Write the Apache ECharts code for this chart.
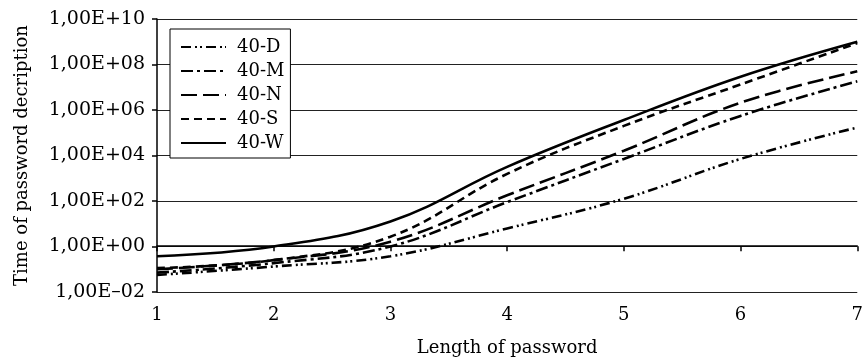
<!DOCTYPE html>
<html><head><meta charset="utf-8">
<script src="https://cdn.jsdelivr.net/npm/echarts@6/dist/echarts.min.js"></script>
<style>html,body{margin:0;padding:0;background:#fff}#c{width:866px;height:362px}</style>
</head><body><div id="c"></div>
<script>
// ---- data ----
const lengths = [1, 2, 3, 4, 5, 6, 7];
const seriesNames = ['40-D', '40-M', '40-N', '40-S', '40-W'];
const d40D = [0.056, 0.132, 0.372, 6.2, 126, 7080, 1.7e5];
const d40M = [0.071, 0.186, 1.0, 89, 7080, 5.5e5, 1.82e7];
const d40N = [0.1, 0.251, 1.62, 178, 16200, 2.09e6, 5.0e7];
const d40S = [0.112, 0.251, 2.69, 1550, 2.0e5, 1.32e7, 8.7e8];
const d40W = [0.372, 1.0, 12.6, 3160, 3.63e5, 2.9e7, 1.0e9];
const yTickValues = [1e-2, 1e0, 1e2, 1e4, 1e6, 1e8, 1e10];
const yTickLabels = ['1,00E\u201302', '1,00E+00', '1,00E+02', '1,00E+04', '1,00E+06', '1,00E+08', '1,00E+10'];

// ---- layout / style ----
const W = 866, H = 362;
const gridTop = 19, gridBottom = 68, gridLeft = 157, gridRight = 4;
const gridH = H - gridTop - gridBottom;
const FONT = 'DejaVu Serif';
const dashes = {
  '40-D': [10, 4, 2, 3, 2, 4],
  '40-M': [12, 4, 3, 4],
  '40-N': [16, 6],
  '40-S': [8, 5],
  '40-W': 'solid'
};
const allData = [d40D, d40M, d40N, d40S, d40W];

function labelFor(v) {
  const e = Math.round(Math.log10(v));
  for (let i = 0; i < yTickValues.length; i++) {
    if (Math.round(Math.log10(yTickValues[i])) === e) return yTickLabels[i];
  }
  return '';
}

const chart = echarts.init(document.getElementById('c'), null, {renderer: 'canvas'});
const option = {
  animation: false,
  backgroundColor: '#fff',
  textStyle: {fontFamily: FONT, color: '#000'},
  grid: {top: gridTop, bottom: gridBottom, left: gridLeft, right: gridRight, containLabel: false},
  legend: {
    data: seriesNames,
    orient: 'vertical',
    left: 170, top: 29,
    backgroundColor: '#fff',
    borderColor: '#000', borderWidth: 1,
    padding: [9, 6, 6, 10],
    itemWidth: 45, itemHeight: 16, itemGap: 6,
    itemStyle: {opacity: 0, borderWidth: 0},
    textStyle: {fontFamily: FONT, fontSize: 18, color: '#000', padding: [0, 0, 0, 6]},
    z: 10
  },
  xAxis: [{
    type: 'value', min: 1, max: 7, interval: 1,
    name: 'Length of password', nameLocation: 'middle', nameGap: 47,
    nameTextStyle: {fontFamily: FONT, fontSize: 18, color: '#000'},
    axisLine: {show: false}, axisTick: {show: false}, splitLine: {show: false},
    axisLabel: {fontFamily: FONT, fontSize: 18, color: '#000', margin: 14}
  }, {
    type: 'value', min: 1, max: 7, interval: 1, position: 'bottom',
    offset: -gridH * 2 / 12,
    axisLine: {show: true, lineStyle: {color: '#000', width: 1.5}},
    axisTick: {show: true, length: 5, lineStyle: {color: '#000', width: 1.5}},
    axisLabel: {show: false}, splitLine: {show: false}
  }],
  yAxis: {
    type: 'log', logBase: 10, min: 1e-2, max: 1e10, interval: 2,
    name: 'Time of password decription', nameLocation: 'middle', nameGap: 126,
    nameTextStyle: {fontFamily: FONT, fontSize: 18, color: '#000'},
    axisLine: {show: true, lineStyle: {color: '#000', width: 1.5}},
    axisTick: {show: true, length: 5, lineStyle: {color: '#000', width: 1.5}},
    splitLine: {show: true, lineStyle: {color: '#222', width: 1.1}},
    minorTick: {show: false},
    axisLabel: {fontFamily: FONT, fontSize: 19, color: '#000', margin: 12, formatter: labelFor}
  },
  series: seriesNames.map((n, i) => ({
    name: n, type: 'line', xAxisIndex: 0,
    data: lengths.map((x, j) => [x, allData[i][j]]),
    smooth: 0.4, showSymbol: false, symbol: 'none',
    lineStyle: {color: '#000', width: 2.6, type: dashes[n], cap: 'butt'},
    itemStyle: {color: '#000'},
    z: 3
  }))
};
chart.setOption(option);
</script></body></html>
